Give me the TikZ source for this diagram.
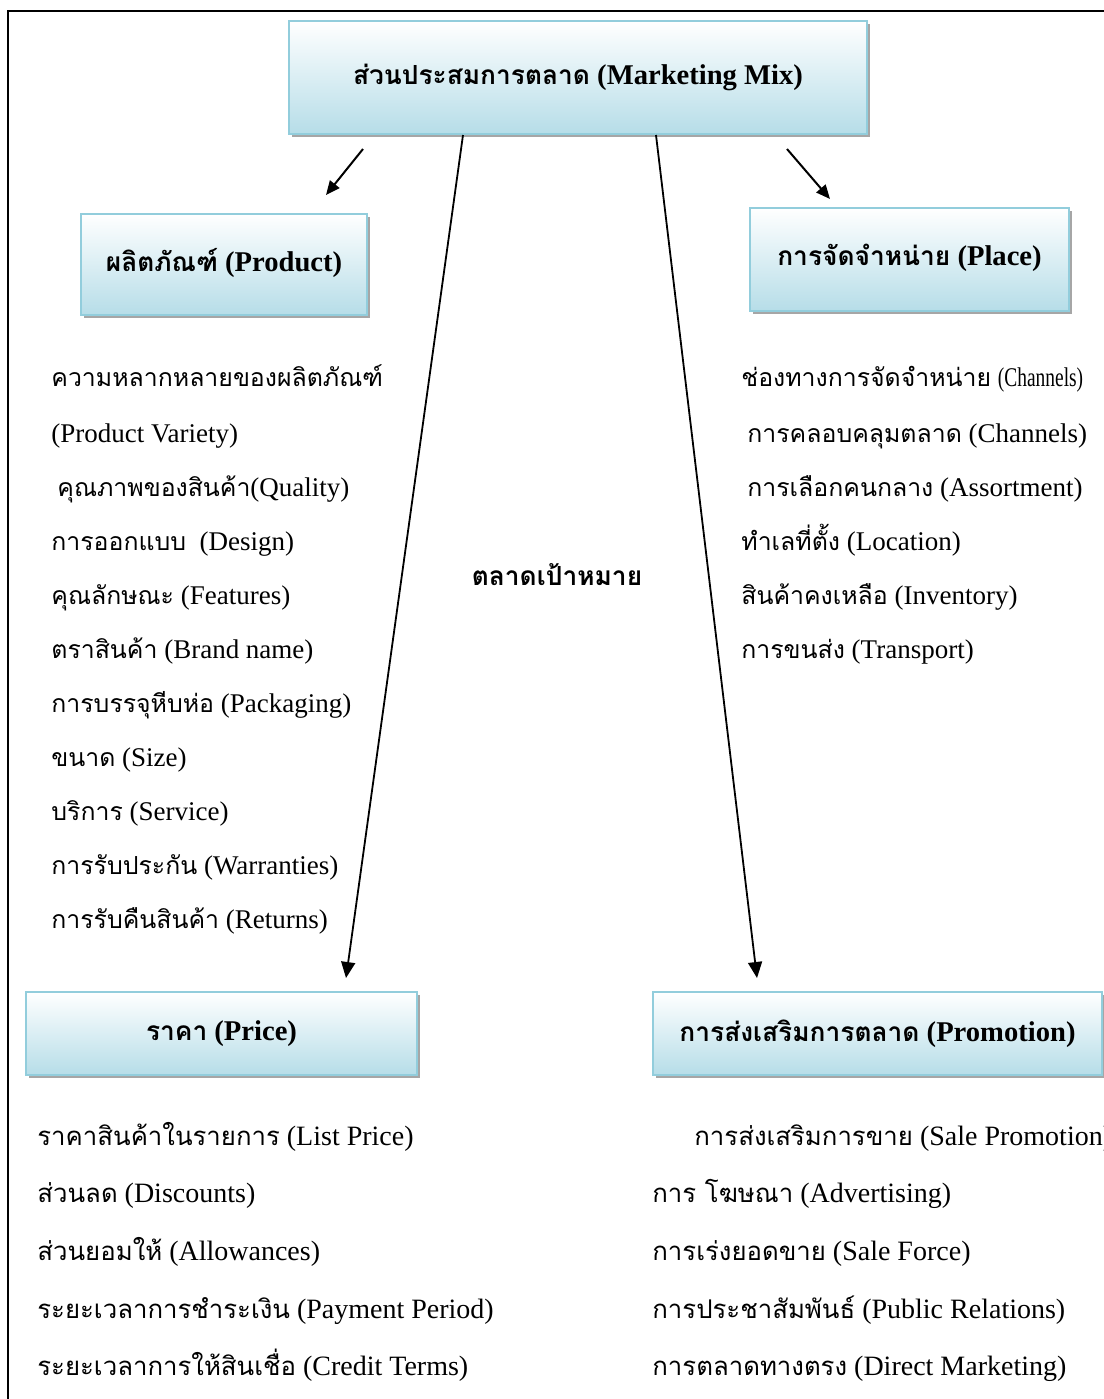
\documentclass[tikz,border=0pt]{standalone}
\usepackage{fontspec}
\usepackage{graphicx}
\setmainfont{Liberation Serif}
\newfontfamily\thaifont[Script=Thai,Scale=0.92]{Loma}
\newcommand\tht[1]{{\thaifont #1}}
\usetikzlibrary{arrows.meta,calc,shadows}
\definecolor{boxline}{HTML}{92CDDC}
\definecolor{boxfill}{HTML}{B6DDE8}

\begin{document}
\begin{tikzpicture}[x=0.5pt,y=-0.5pt,
  headbox/.style={draw=boxline,line width=1pt,top color=white,bottom color=boxfill,
    anchor=north west,inner sep=0pt,font=\bfseries\fontsize{14.3}{16}\selectfont,
    drop shadow={shadow xshift=1.5pt,shadow yshift=-1.5pt,fill=gray!70,opacity=1}},
  item/.style={anchor=base west,inner sep=0pt,font=\fontsize{13.5}{15}\selectfont},
  lowitem/.style={item,font=\fontsize{14}{16}\selectfont},
  smallarrow/.style={-{Triangle[length=7pt,width=6pt]},line width=1pt},
  bigarrow/.style={-{Triangle[length=8pt,width=7pt]},line width=0.9pt}]
\useasboundingbox (0,0) rectangle (1104,1399);
\draw[line width=1pt] (8,1399) -- (8,11) -- (1104,11);

% the four P boxes round the mix
\node[headbox,minimum width=289pt,minimum height=56.5pt] (mix) at (288,20) {\raisebox{2pt}{\tht{ส่วนประสมการตลาด} (Marketing Mix)}};
\node[headbox,minimum width=143pt,minimum height=50.5pt] (product) at (80,213) {\raisebox{4.5pt}{\tht{ผลิตภัณฑ์} (Product)}};
\node[headbox,minimum width=159.5pt,minimum height=51.5pt] (place) at (749,207) {\raisebox{4.5pt}{\tht{การจัดจำหน่าย} (Place)}};
\node[headbox,minimum width=195.5pt,minimum height=41.5pt] (price) at (25,991) {\tht{ราคา} (Price)};
\node[headbox,minimum width=224.5pt,minimum height=41.5pt] (promo) at (652,991) {\tht{การส่งเสริมการตลาด} (Promotion)};
\node[font=\bfseries\fontsize{14.3}{16}\selectfont] (target) at (557,575) {\tht{ตลาดเป้าหมาย}};

\draw[smallarrow] ($(mix.south west)+(75,14)$) -- ($(product.north west)+(246,-18)$);
\draw[smallarrow] ($(mix.south west)+(499,14)$) -- ($(place.north west)+(81,-8)$);
\draw[bigarrow] ($(mix.south west)+(175,0)$) -- ($(price.north west)+(321,-13)$);
\draw[bigarrow] ($(mix.south west)+(368,0)$) -- ($(promo.north west)+(105,-13)$);

% lists under each box
\foreach \x/\y/\t [count=\i] in {51/386/\tht{ความหลากหลายของผลิตภัณฑ์},
    51/442/(Product Variety),
    57/496/\tht{คุณภาพของสินค้า}(Quality),
    51/550/\tht{การออกแบบ}\ \ (Design),
    51/604/\tht{คุณลักษณะ} (Features),
    51/658/\tht{ตราสินค้า} (Brand name),
    51/712/\tht{การบรรจุหีบห่อ} (Packaging),
    51/766/\tht{ขนาด} (Size),
    51/820/\tht{บริการ} (Service),
    51/874/\tht{การรับประกัน} (Warranties),
    51/928/\tht{การรับคืนสินค้า} (Returns)}
  \node[item] (prod\i) at (\x,\y) {\t};

\foreach \x/\y/\t [count=\i] in {741/386/\tht{ช่องทางการจัดจำหน่าย} \scalebox{0.72}[1]{(Channels)},
    747/442/\tht{การคลอบคลุมตลาด} (Channels),
    747/496/\tht{การเลือกคนกลาง} (Assortment),
    741/550/\tht{ทำเลที่ตั้ง} (Location),
    741/604/\tht{สินค้าคงเหลือ} (Inventory),
    741/658/\tht{การขนส่ง} (Transport)}
  \node[item] (plac\i) at (\x,\y) {\t};

\foreach \x/\y/\t [count=\i] in {37/1145/\tht{ราคาสินค้าในรายการ} (List Price),
    37/1202/\tht{ส่วนลด} (Discounts),
    37/1260/\tht{ส่วนยอมให้} (Allowances),
    37/1318/\tht{ระยะเวลาการชำระเงิน} (Payment Period),
    37/1375/\tht{ระยะเวลาการให้สินเชื่อ} (Credit Terms)}
  \node[lowitem] (pric\i) at (\x,\y) {\t};

\foreach \x/\y/\t [count=\i] in {694/1145/\tht{การส่งเสริมการขาย} (Sale Promotion),
    652/1202/\tht{การ โฆษณา} (Advertising),
    652/1260/\tht{การเร่งยอดขาย} (Sale Force),
    652/1318/\tht{การประชาสัมพันธ์} (Public Relations),
    652/1375/\tht{การตลาดทางตรง} (Direct Marketing)}
  \node[lowitem] (prom\i) at (\x,\y) {\t};
\end{tikzpicture}
\end{document}
